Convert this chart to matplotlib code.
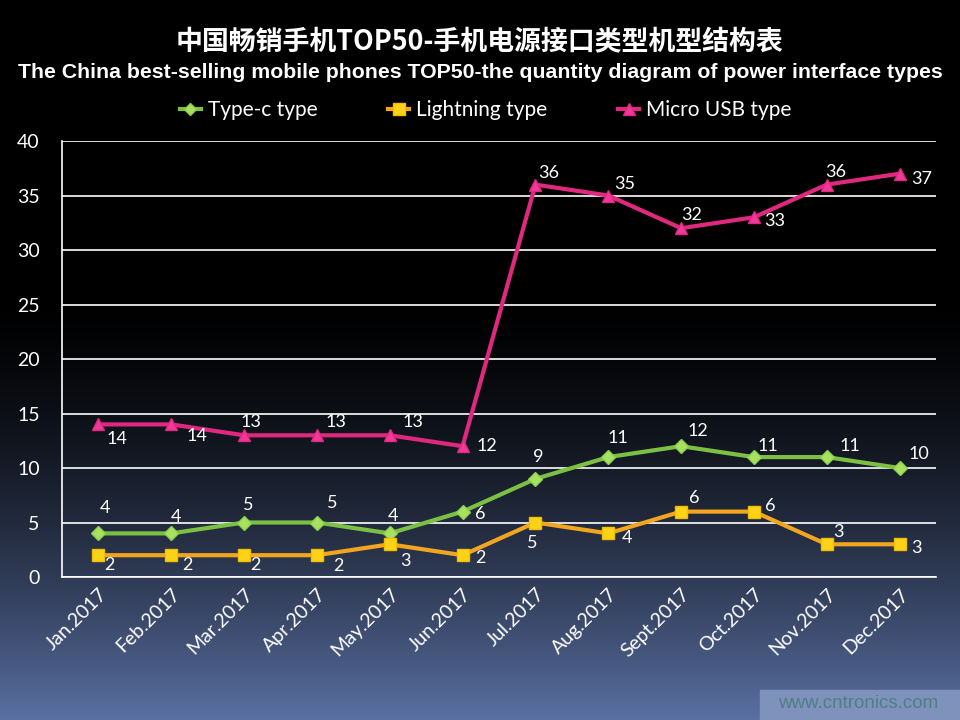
import numpy as np
import matplotlib
matplotlib.use("Agg")
import matplotlib.pyplot as plt
from matplotlib.lines import Line2D

months = ["Jan.2017", "Feb.2017", "Mar.2017", "Apr.2017", "May.2017", "Jun.2017",
          "Jul.2017", "Aug.2017", "Sept.2017", "Oct.2017", "Nov.2017", "Dec.2017"]
type_c = [4, 4, 5, 5, 4, 6, 9, 11, 12, 11, 11, 10]
lightning = [2, 2, 2, 2, 3, 2, 5, 4, 6, 6, 3, 3]
micro_usb = [14, 14, 13, 13, 13, 12, 36, 35, 32, 33, 36, 37]
series_names = ["Type-c type", "Lightning type", "Micro USB type"]
yticks = [0, 5, 10, 15, 20, 25, 30, 35, 40]

title_cn = "中国畅销手机TOP50-手机电源接口类型机型结构表"
title_en = "The China best-selling mobile phones TOP50-the quantity diagram of power interface types"
watermark = "www.cntronics.com"

# label offsets in pixels (dx, dy up)
off_c = [(7, 25), (5, 16), (4, 17), (15, 19), (3, 17), (18, -2), (3, 22), (10, 19), (17, 15), (14, 11), (23, 11), (19, 14)]
off_l = [(11, -10), (16, -10), (11, -10), (21, -11), (16, -17), (18, -3), (-3, -21), (19, -5), (13, 14), (16, 6), (12, 12), (17, -4)]
off_m = [(19, -15), (26, -12), (7, 13), (19, 13), (23, 13), (24, 0), (13, 12), (16, 12), (11, 13), (21, -4), (9, 13), (22, -5)]

fig = plt.figure(figsize=(9.6, 7.2), dpi=100)

# background gradient
bg = fig.add_axes([0, 0, 1, 1], zorder=-10)
bg.set_axis_off()
h = 720
t = np.linspace(0, 1, h)
f = np.clip((t - 0.4) / 0.6, 0, 1) ** 1.6
bottom = np.array([90, 112, 162]) / 255.0
grad = (f[:, None] * bottom[None, :])[:, None, :]
grad = np.repeat(grad, 4, axis=1)
bg.imshow(grad, aspect="auto", extent=[0, 1, 0, 1], origin="upper")
bg.set_xlim(0, 1)
bg.set_ylim(0, 1)
# watermark box
bg.add_patch(plt.Rectangle((760 / 960, 0), 200 / 960, 30 / 720, color="#7f92bc", zorder=2))
bg.text(858 / 960, 16 / 720, watermark, color="#4e7f84", fontsize=13.5,
        ha="center", va="center", family="Liberation Sans", zorder=3)

ax = fig.add_axes([62 / 960, 1 - 577 / 720, (936 - 62) / 960, (577 - 141) / 720])
ax.patch.set_alpha(0)
x = np.arange(len(months))
ax.set_xlim(-0.5, len(months) - 0.5)
ax.set_ylim(0, 40)
ax.set_yticks(yticks)
ax.set_yticklabels([str(v) for v in yticks], color="white", fontsize=14, family="Lato")
ax.set_xticks(x)
ax.set_xticklabels(months, rotation=45, ha="right", rotation_mode="anchor",
                   color="white", fontsize=14, family="Lato")
ax.tick_params(axis="both", length=0)
ax.tick_params(axis="y", pad=16)
ax.tick_params(axis="x", pad=6)
for s in ["top", "right"]:
    ax.spines[s].set_visible(False)
ax.spines["left"].set_color("white")
ax.spines["bottom"].set_color("white")
ax.spines["left"].set_linewidth(1.2)
ax.spines["bottom"].set_linewidth(1.2)
ax.grid(axis="y", color="white", linewidth=1.2)
ax.set_axisbelow(True)

styles = [
    dict(color="#7cc043", marker="D", mfc="#a8e060", mec="#8ccf50", ms=7),
    dict(color="#f2a51e", marker="s", mfc="#ffd21a", mec="#f0c000", ms=9),
    dict(color="#e0287f", marker="^", mfc="#f0399a", mec="#e0287f", ms=9),
]
data = [type_c, lightning, micro_usb]
offs = [off_c, off_l, off_m]
handles = []
for vals, st, off, name in zip(data, styles, offs, series_names):
    ax.plot(x, vals, color=st["color"], lw=3, marker=st["marker"], ms=st["ms"],
            mfc=st["mfc"], mec=st["mec"], zorder=3)
    for xi, v, (dx, dy) in zip(x, vals, off):
        ax.annotate(str(v), (xi, v), xytext=(dx * 0.72, dy * 0.72), textcoords="offset points",
                    ha="center", va="center", color="white", fontsize=13, family="Lato", zorder=4)
    handles.append(Line2D([], [], color=st["color"], lw=3, marker=st["marker"],
                          ms=st["ms"] * 0.9, mfc=st["mfc"], mec=st["mec"]))

leg = fig.legend(handles, series_names, loc="center", bbox_to_anchor=(0.506, 1 - 110 / 720),
                 ncol=3, frameon=False, handlelength=1.0, handletextpad=0.35,
                 columnspacing=3.4, prop={"family": "Lato", "size": 15})
for txt in leg.get_texts():
    txt.set_color("white")

fig.text(0.5, 1 - 42 / 720, title_cn, ha="center", va="center", color="white",
         fontsize=19.4, fontweight="bold", family=["Noto Sans CJK SC", "DejaVu Sans"])
fig.text(0.5, 1 - 72 / 720, title_en, ha="center", va="center", color="white",
         fontsize=15.3, fontweight="bold", family="Liberation Sans")

fig.savefig("out.png", dpi=100)
